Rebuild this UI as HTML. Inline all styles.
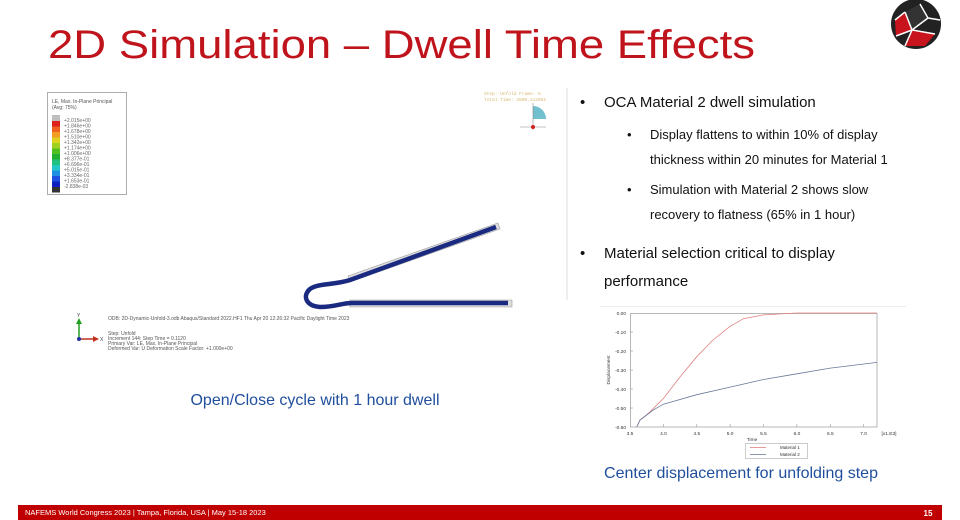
<!DOCTYPE html>
<html><head><meta charset="utf-8"><style>
html,body{margin:0;padding:0;background:#fff;}
svg{display:block;font-family:"Liberation Sans",sans-serif;}
</style></head><body>
<svg width="960" height="520" viewBox="0 0 960 520" xmlns="http://www.w3.org/2000/svg">
<rect width="960" height="520" fill="#fff"/>
<!-- title -->
<text x="48" y="58" font-size="40" fill="#c0141c" textLength="707" lengthAdjust="spacingAndGlyphs">2D Simulation – Dwell Time Effects</text>
<!-- logo -->
<circle cx="916" cy="24" r="25" fill="#222"/>
<path d="M895 20 L905 12 L912 30 L896 36 Z" fill="#c8141c"/>
<path d="M912 30 L935 34 L925 46 L905 46 Z" fill="#c8141c"/>
<path d="M905 12 L920 4 L928 18 L912 30 Z" fill="#333"/>
<g stroke="#fff" stroke-width="1.5" fill="none"><path d="M905 12 L912 30 L935 34 M912 30 L905 46 M920 4 L928 18 L912 30 M928 18 L940 20 M896 36 L912 30 M895 20 L905 12"/></g>
<!-- left figure legend -->
<rect x="47.5" y="92.5" width="79" height="102" fill="#fff" stroke="#999" stroke-width="0.8"/>
<text x="52" y="103" font-size="5" fill="#555">LE, Max. In-Plane Principal</text>
<text x="52" y="109" font-size="5" fill="#555">(Avg: 75%)</text>
<g>
<rect x="52" y="115" width="8" height="6" fill="#c0c0c0"/>
<rect x="52" y="121" width="8" height="5.5" fill="#e0201a"/>
<rect x="52" y="126.5" width="8" height="5.5" fill="#f06020"/>
<rect x="52" y="132" width="8" height="5.5" fill="#f0a020"/>
<rect x="52" y="137.5" width="8" height="5.5" fill="#e0d020"/>
<rect x="52" y="143" width="8" height="5.5" fill="#a0d020"/>
<rect x="52" y="148.5" width="8" height="5.5" fill="#50c020"/>
<rect x="52" y="154" width="8" height="5.5" fill="#20b030"/>
<rect x="52" y="159.5" width="8" height="5.5" fill="#20c080"/>
<rect x="52" y="165" width="8" height="5.5" fill="#20c8c8"/>
<rect x="52" y="170.5" width="8" height="5.5" fill="#2090e0"/>
<rect x="52" y="176" width="8" height="5.5" fill="#2050e0"/>
<rect x="52" y="181.5" width="8" height="5.5" fill="#1020c0"/>
<rect x="52" y="187" width="8" height="5.5" fill="#333"/>
</g>
<g font-size="5" fill="#666">
<text x="64" y="122">+2.015e+00</text><text x="64" y="127.5">+1.846e+00</text><text x="64" y="133">+1.678e+00</text><text x="64" y="138.5">+1.510e+00</text><text x="64" y="144">+1.342e+00</text><text x="64" y="149.5">+1.174e+00</text><text x="64" y="155">+1.006e+00</text><text x="64" y="160.5">+8.377e-01</text><text x="64" y="166">+6.696e-01</text><text x="64" y="171.5">+5.015e-01</text><text x="64" y="177">+3.334e-01</text><text x="64" y="182.5">+1.653e-01</text><text x="64" y="188">-2.838e-03</text>
</g>
<!-- step info top right -->
<text x="484" y="95" font-size="4.5" fill="#d8b870" font-family="Liberation Mono,monospace">Step: Unfold   Frame: 5</text>
<text x="484" y="101" font-size="4.5" fill="#d8b870" font-family="Liberation Mono,monospace">Total Time: 3600.112061</text>
<path d="M533 106 L533 119 L546 119 A13 13 0 0 0 533 106 Z" fill="#70c0d0"/>
<line x1="533" y1="103" x2="533" y2="130" stroke="#888" stroke-width="0.6"/>
<line x1="520" y1="127" x2="546" y2="127" stroke="#888" stroke-width="0.6"/>
<circle cx="533" cy="127" r="2" fill="#d02020"/>
<!-- separator -->
<line x1="567" y1="88" x2="567" y2="300" stroke="#ddd" stroke-width="1"/>
<!-- shell -->
<path d="M348 276 L498 223 L500 229 L350 282 Z" fill="#ddd" stroke="#999" stroke-width="0.6"/>
<path d="M350 300 L512 300 L512 307 L350 307 Z" fill="#ddd" stroke="#999" stroke-width="0.6"/>
<path d="M496 227 L350 280 C335 285 318 283 310 289 C302 296 306 306 320 307 C335 307 342 303 352 303 L508 303" fill="none" stroke="#1a2a80" stroke-width="4.5"/>
<!-- axis triad and info -->
<line x1="79" y1="339" x2="79" y2="322" stroke="#20a020" stroke-width="1.5"/>
<path d="M76 324 L79 318 L82 324 Z" fill="#20a020"/>
<line x1="79" y1="339" x2="95" y2="339" stroke="#c03020" stroke-width="1.5"/>
<path d="M93 336 L99 339 L93 342 Z" fill="#c03020"/>
<circle cx="79" cy="339" r="2" fill="#2030a0"/>
<text x="77" y="317" font-size="5" fill="#444">Y</text>
<text x="100" y="341" font-size="5" fill="#444">X</text>
<g font-size="5" fill="#555">
<text x="108" y="320">ODB: 2D-Dynamic-Unfold-3.odb    Abaqus/Standard 2022.HF1    Thu Apr 20 12:26:32 Pacific Daylight Time 2023</text>
<text x="108" y="335">Step: Unfold</text>
<text x="108" y="340">Increment    144: Step Time =    0.1120</text>
<text x="108" y="345">Primary Var: LE, Max. In-Plane Principal</text>
<text x="108" y="350">Deformed Var: U   Deformation Scale Factor: +1.000e+00</text>
</g>
<text x="315" y="405" font-size="16" fill="#1f4e9c" text-anchor="middle">Open/Close cycle with 1 hour dwell</text>
<!-- bullets -->
<g fill="#111">
<text x="580" y="107" font-size="15">•</text>
<text x="604" y="107" font-size="15">OCA Material 2 dwell simulation</text>
<text x="627" y="139" font-size="13">•</text>
<text x="650" y="139" font-size="13">Display flattens to within 10% of display</text>
<text x="650" y="164" font-size="13">thickness within 20 minutes for Material 1</text>
<text x="627" y="194" font-size="13">•</text>
<text x="650" y="194" font-size="13">Simulation with Material 2 shows slow</text>
<text x="650" y="219" font-size="13">recovery to flatness (65% in 1 hour)</text>
<text x="580" y="258" font-size="15">•</text>
<text x="604" y="258" font-size="15">Material selection critical to display</text>
<text x="604" y="286" font-size="15">performance</text>
</g>
<line x1="600" y1="306.5" x2="906" y2="306.5" stroke="#eee"/>
<!-- chart -->
<rect x="630.5" y="313.5" width="246.5" height="113.5" fill="#fff" stroke="#888" stroke-width="0.6"/>
<g stroke="#888" stroke-width="0.5">
<line x1="630" y1="332" x2="633" y2="332"/><line x1="630" y1="351" x2="633" y2="351"/><line x1="630" y1="370" x2="633" y2="370"/><line x1="630" y1="389" x2="633" y2="389"/><line x1="630" y1="408" x2="633" y2="408"/>
<line x1="663.4" y1="427" x2="663.4" y2="424"/><line x1="696.8" y1="427" x2="696.8" y2="424"/><line x1="730.1" y1="427" x2="730.1" y2="424"/><line x1="763.5" y1="427" x2="763.5" y2="424"/><line x1="796.9" y1="427" x2="796.9" y2="424"/><line x1="830.3" y1="427" x2="830.3" y2="424"/><line x1="863.6" y1="427" x2="863.6" y2="424"/>
</g>
<g font-size="4.8" fill="#333" text-anchor="end">
<text x="626" y="315">0.00</text><text x="626" y="334">-0.10</text><text x="626" y="353">-0.20</text><text x="626" y="372">-0.30</text><text x="626" y="391">-0.40</text><text x="626" y="410">-0.50</text><text x="626" y="429">-0.60</text>
</g>
<g font-size="4.8" fill="#333" text-anchor="middle">
<text x="630" y="435">3.5</text><text x="663.4" y="435">4.0</text><text x="696.8" y="435">4.5</text><text x="730.1" y="435">5.0</text><text x="763.5" y="435">5.5</text><text x="796.9" y="435">6.0</text><text x="830.3" y="435">6.5</text><text x="863.6" y="435">7.0</text>
<text x="889" y="435">[x1.E3]</text>
<text x="752" y="441">Time</text>
</g>
<text x="0" y="0" font-size="4.8" fill="#333" text-anchor="middle" transform="translate(610,370) rotate(-90)">Displacement</text>
<polyline fill="none" stroke="#e08080" stroke-width="0.8" points="636.7,427 640,420 643.4,417.5 650,411.8 663.4,398.5 680,377 696.8,356.7 713,340 730.1,326.3 743.5,318.7 763.5,314.9 796.9,313 877,313"/>
<polyline fill="none" stroke="#6a7a9a" stroke-width="0.8" points="636.7,427 640,420 643.4,417.5 653.4,409.9 663.4,404.2 696.8,394.7 730.1,387.1 763.5,379.5 796.9,373.8 830.3,368.1 877,362.4"/>
<rect x="745.5" y="443.5" width="62" height="15" fill="#fff" stroke="#999" stroke-width="0.5"/>
<line x1="750" y1="447.5" x2="766" y2="447.5" stroke="#e08080" stroke-width="0.8"/>
<line x1="750" y1="454.5" x2="766" y2="454.5" stroke="#6a7a9a" stroke-width="0.8"/>
<text x="780" y="449" font-size="4.5" fill="#333">Material 1</text>
<text x="780" y="456" font-size="4.5" fill="#333">Material 2</text>
<text x="741" y="478" font-size="16" fill="#1f4e9c" text-anchor="middle">Center displacement for unfolding step</text>
<!-- footer -->
<rect x="18" y="505" width="924" height="15" fill="#c00000"/>
<text x="25" y="515" font-size="7.5" fill="#fff">NAFEMS World Congress 2023 | Tampa, Florida, USA | May 15-18 2023</text>
<text x="928" y="516" font-size="8" font-weight="bold" fill="#fff" text-anchor="middle">15</text>
</svg>
</body></html>
